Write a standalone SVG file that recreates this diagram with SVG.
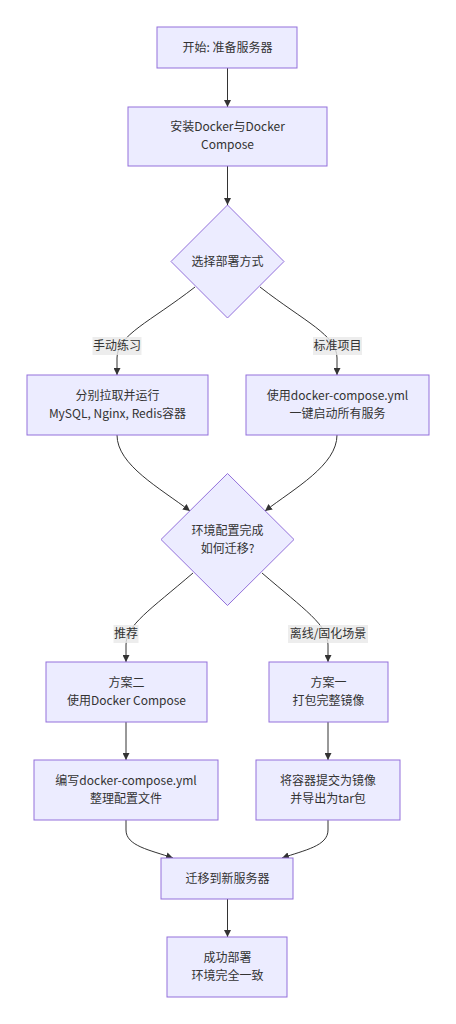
<svg xmlns="http://www.w3.org/2000/svg" width="456" height="1024" viewBox="0 0 456 1024">
<style>
.node rect, .node polygon { fill: #ECECFF; stroke: #9370DB; stroke-width: 1; }
text { font-family: "Noto Sans CJK SC", "Noto Sans", sans-serif; font-size: 12px; fill: #333333; text-anchor: middle; }
.edge { fill: none; stroke: #333333; stroke-width: 1; marker-end: url(#arrow); }
.lbl rect { fill: #e8e8e8; fill-opacity: 0.8; stroke: none; }
</style>
<defs>
<marker id="arrow" viewBox="0 0 10 10" refX="10" refY="5" markerWidth="7" markerHeight="7" markerUnits="userSpaceOnUse" orient="auto">
<path d="M0,0 L10,5 L0,10 z" fill="#333333"/>
</marker>
</defs>
<rect width="456" height="1024" fill="#ffffff"/>
<g id="connectors">
<path class="edge" d="M227.5,68 L227.5,107"/>
<path class="edge" d="M227.5,166 L227.5,205"/>
<path class="edge" d="M195,287 C150,322 117,335 117,358 L117,375"/>
<path class="edge" d="M260,287 C305,322 337,335 337,358 L337,375"/>
<path class="edge" d="M117,435 C117,465 160,488 190,511"/>
<path class="edge" d="M337,435 C337,465 295,488 265,511"/>
<path class="edge" d="M193,573 C150,610 126,625 126,645 L126,662"/>
<path class="edge" d="M262,573 C305,610 328,625 328,645 L328,662"/>
<path class="edge" d="M126,722 L126,760"/>
<path class="edge" d="M328,722 L328,760"/>
<path class="edge" d="M126,820 L126,830 C126,846 150,850 173,858"/>
<path class="edge" d="M328,820 L328,830 C328,846 305,850 282,858"/>
<path class="edge" d="M227.5,899 L227.5,937"/>
<g class="lbl" id="label-manual"><rect x="92.5" y="337" width="49" height="18"/><text x="117" y="350">手动练习</text></g>
<g class="lbl" id="label-standard"><rect x="313" y="337" width="49" height="18"/><text x="337.5" y="350">标准项目</text></g>
<g class="lbl" id="label-recommend"><rect x="113.5" y="625" width="25" height="18"/><text x="126" y="638">推荐</text></g>
<g class="lbl" id="label-offline"><rect x="288" y="625" width="80" height="18"/><text x="328" y="638">离线/固化场景</text></g>
</g>
<g id="A" class="node"><rect x="157" y="27" width="140" height="41"/><text x="227.5" y="51.5">开始: 准备服务器</text></g>
<g id="B" class="node"><rect x="128" y="107" width="199" height="59"/><text x="227.5" y="131">安装Docker与Docker</text><text x="227.5" y="149">Compose</text></g>
<g id="C" class="node"><polygon points="227.5,205 284,261.5 227.5,318 171,261.5"/><text x="227.5" y="265.5">选择部署方式</text></g>
<g id="D" class="node"><rect x="27" y="375" width="181" height="60"/><text x="117.5" y="400">分别拉取并运行</text><text x="117.5" y="418">MySQL, Nginx, Redis容器</text></g>
<g id="E" class="node"><rect x="246" y="375" width="183" height="60"/><text x="337.5" y="400">使用docker-compose.yml</text><text x="337.5" y="418">一键启动所有服务</text></g>
<g id="F" class="node"><polygon points="227.5,473.5 294,539.5 227.5,605.5 161,539.5"/><text x="227.5" y="534.5">环境配置完成</text><text x="227.5" y="552.5">如何迁移?</text></g>
<g id="G" class="node"><rect x="46" y="662" width="161" height="60"/><text x="126.5" y="687">方案二</text><text x="126.5" y="705">使用Docker Compose</text></g>
<g id="H" class="node"><rect x="269" y="662" width="119" height="60"/><text x="328.5" y="687">方案一</text><text x="328.5" y="705">打包完整镜像</text></g>
<g id="I" class="node"><rect x="34" y="760" width="184" height="60"/><text x="126" y="785">编写docker-compose.yml</text><text x="126" y="803">整理配置文件</text></g>
<g id="J" class="node"><rect x="256" y="760" width="144" height="60"/><text x="328" y="785">将容器提交为镜像</text><text x="328" y="803">并导出为tar包</text></g>
<g id="K" class="node"><rect x="161" y="858" width="132" height="41"/><text x="227.5" y="883">迁移到新服务器</text></g>
<g id="L" class="node"><rect x="167" y="937" width="120" height="60"/><text x="227.5" y="962">成功部署</text><text x="227.5" y="980">环境完全一致</text></g>
</svg>
